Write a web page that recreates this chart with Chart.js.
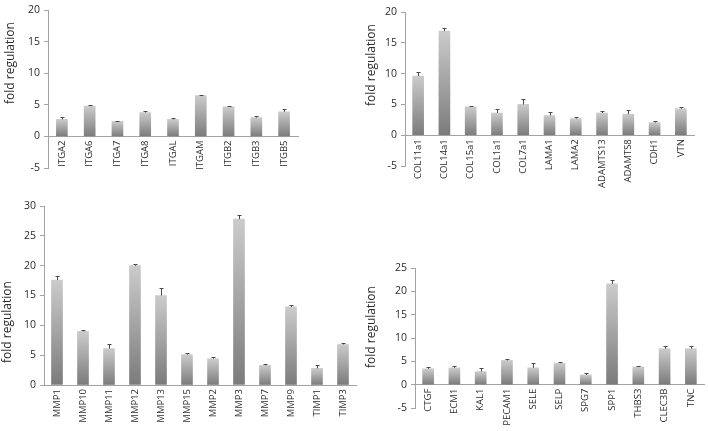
<!DOCTYPE html>
<html>
<head>
<meta charset="utf-8">
<script src="https://cdn.jsdelivr.net/npm/chart.js@4.4.1/dist/chart.umd.min.js"></script>
<style>
  html, body { margin: 0; padding: 0; background: #fff; overflow: hidden; }
  #wrap { position: relative; width: 708px; height: 431px; }
  #wrap canvas { position: absolute; left: 0; top: 0; }
</style>
</head>
<body>
<div id="wrap">
  <canvas id="c1" width="708" height="431"></canvas>
  <canvas id="c2" width="708" height="431"></canvas>
  <canvas id="c3" width="708" height="431"></canvas>
  <canvas id="c4" width="708" height="431"></canvas>
</div>
<script>
// integrins
const integrinLabels = ["ITGA2", "ITGA6", "ITGA7", "ITGA8", "ITGAL", "ITGAM", "ITGB2", "ITGB3", "ITGB5"];
const integrinValues = [2.7, 4.8, 2.4, 3.8, 2.7, 6.5, 4.7, 3.0, 3.9];
const integrinErr = [0.45, 0.15, 0.1, 0.3, 0.15, 0.15, 0.15, 0.3, 0.4];

// collagens / laminins etc
const matrixLabels = ["COL11a1", "COL14a1", "COL15a1", "COL1a1", "COL7a1", "LAMA1", "LAMA2", "ADAMTS13", "ADAMTS8", "CDH1", "VTN"];
const matrixValues = [9.6, 16.9, 4.6, 3.6, 5.0, 3.2, 2.7, 3.6, 3.4, 2.05, 4.3];
const matrixErr = [0.6, 0.5, 0.2, 0.7, 0.9, 0.5, 0.25, 0.4, 0.65, 0.25, 0.3];

// proteases
const mmpLabels = ["MMP1", "MMP10", "MMP11", "MMP12", "MMP13", "MMP15", "MMP2", "MMP3", "MMP7", "MMP9", "TIMP1", "TIMP3"];
const mmpValues = [17.6, 9.0, 6.1, 20.0, 15.0, 5.1, 4.4, 27.8, 3.3, 13.1, 2.8, 6.8];
const mmpErr = [0.6, 0.3, 0.8, 0.3, 1.2, 0.3, 0.25, 0.7, 0.3, 0.3, 0.5, 0.3];

// other adhesion molecules
const otherLabels = ["CTGF", "ECM1", "KAL1", "PECAM1", "SELE", "SELP", "SPG7", "SPP1", "THBS3", "CLEC3B", "TNC"];
const otherValues = [3.4, 3.6, 2.8, 5.2, 3.6, 4.6, 2.1, 21.6, 3.8, 7.7, 7.7];
const otherErr = [0.4, 0.4, 0.8, 0.3, 1.0, 0.2, 0.5, 0.8, 0.3, 0.5, 0.6];

const axisGray = "#a3a3a3";
const textColor = "#2b2b2b";
const fontFamily = "'Open Sans', 'DejaVu Sans', sans-serif";

// draws the sd whiskers (upper half only, like the excel original)
const errorBars = {
  id: "errorBars",
  afterDatasetsDraw(chart) {
    const ds = chart.data.datasets[0];
    const meta = chart.getDatasetMeta(0);
    const y = chart.scales.y;
    const ctx = chart.ctx;
    ctx.save();
    ctx.strokeStyle = "#4a4a4a";
    ctx.lineWidth = 1;
    meta.data.forEach((bar, i) => {
      const top = y.getPixelForValue(ds.data[i] + ds.err[i]);
      const x = Math.round(bar.x) + 0.5;
      const yt = Math.round(top) + 0.5;
      ctx.beginPath();
      ctx.moveTo(x, bar.y);
      ctx.lineTo(x, yt);
      ctx.moveTo(x - 2, yt);
      ctx.lineTo(x + 2, yt);
      ctx.stroke();
    });
    ctx.restore();
  },
};

// y title placed where excel put it (not centred on the plot area)
const sideTitle = {
  id: "sideTitle",
  afterDraw(chart, args, opts) {
    const ctx = chart.ctx;
    ctx.save();
    ctx.translate(opts.x, opts.y);
    ctx.rotate(-Math.PI / 2);
    ctx.font = "12px " + fontFamily;
    ctx.fillStyle = textColor;
    ctx.textAlign = "center";
    ctx.textBaseline = "middle";
    ctx.fillText("fold regulation", 0, 0);
    ctx.restore();
  },
};

function barFill(context) {
  const chart = context.chart;
  const y = chart.scales && chart.scales.y;
  if (!y || context.type !== "data") return "#a0a0a0";
  const top = y.getPixelForValue(context.raw);
  const base = y.getPixelForValue(0);
  if (!isFinite(top) || !isFinite(base) || top === base) return "#a0a0a0";
  const g = chart.ctx.createLinearGradient(0, top, 0, base);
  g.addColorStop(0, "#cbcbcb");
  g.addColorStop(1, "#7b7b7b");
  return g;
}

function makePanel(id, labels, values, err, area, yMin, yMax, title) {
  const yAxisWidth = 40;
  new Chart(document.getElementById(id), {
    type: "bar",
    data: {
      labels,
      datasets: [
        {
          data: values,
          err: err,
          backgroundColor: barFill,
          borderWidth: 0,
          barThickness: 11,
        },
      ],
    },
    options: {
      responsive: false,
      animation: false,
      events: [],
      layout: {
        padding: {
          left: area.left - yAxisWidth,
          right: 708 - area.right,
          top: area.top,
          bottom: 431 - area.bottom,
        },
      },
      plugins: {
        legend: { display: false },
        tooltip: { enabled: false },
        sideTitle: title,
      },
      scales: {
        x: {
          position: { y: 0 },
          afterFit: (scale) => {
            scale.height = 0;
          },
          grid: { display: false, drawTicks: false },
          border: { display: true, color: axisGray, width: 1 },
          ticks: {
            autoSkip: false,
            minRotation: 90,
            maxRotation: 90,
            padding: 4,
            color: textColor,
            font: { family: fontFamily, size: 9.5 },
          },
        },
        y: {
          min: yMin,
          max: yMax,
          afterFit: (scale) => {
            scale.width = yAxisWidth;
          },
          grid: { drawOnChartArea: false, drawTicks: true, tickLength: 4, color: axisGray },
          border: { display: true, color: axisGray, width: 1 },
          ticks: {
            stepSize: 5,
            padding: 4,
            color: textColor,
            font: { family: fontFamily, size: 10.5 },
          },
        },
      },
    },
    plugins: [errorBars, sideTitle],
  });
}

makePanel("c1", integrinLabels, integrinValues, integrinErr,
  { left: 48, right: 298, top: 8, bottom: 168 }, -5, 20, { x: 11, y: 63 });
makePanel("c2", matrixLabels, matrixValues, matrixErr,
  { left: 405, right: 694, top: 12, bottom: 166 }, -5, 20, { x: 372, y: 65 });
makePanel("c3", mmpLabels, mmpValues, mmpErr,
  { left: 44, right: 356, top: 206, bottom: 385 }, 0, 30, { x: 8, y: 322 });
makePanel("c4", otherLabels, otherValues, otherErr,
  { left: 415, right: 704, top: 268, bottom: 408 }, -5, 25, { x: 372, y: 327 });
</script>
</body>
</html>
